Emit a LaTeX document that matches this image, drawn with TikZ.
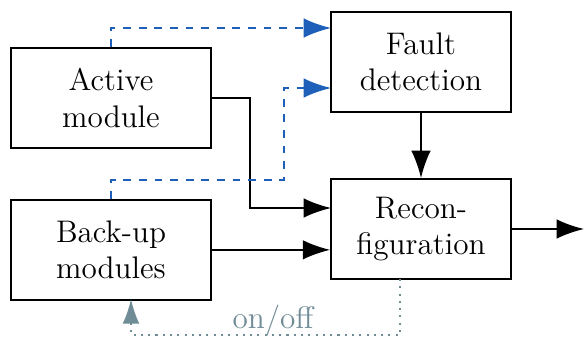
\documentclass[tikz,border=0pt]{standalone}
\usepackage{amsmath}
\usetikzlibrary{arrows.meta,positioning}
\definecolor{faultblue}{RGB}{30,95,185}
\definecolor{switchgrey}{RGB}{112,140,150}

\begin{document}
\begin{tikzpicture}[
    x=0.3846pt, y=-0.3846pt,
    modbox/.style={rectangle, draw=black, line width=0.7pt, align=center,
        minimum width=76.9pt, minimum height=38.5pt, inner sep=2pt, font=\large},
    ctrlbox/.style={modbox, minimum width=69.2pt},
    flow/.style={-{Latex[length=10.5pt,width=7.5pt]}, line width=0.7pt},
    monitor/.style={-{Latex[length=10.5pt,width=7.5pt]}, line width=0.7pt, dashed, faultblue},
    onoff/.style={-{Latex[length=9.5pt,width=6.5pt]}, line width=0.8pt, dotted, switchgrey}
]
\useasboundingbox (0,0) rectangle (584,338);
\node[modbox] (active) at (111,98) {Active\\module};
\node[modbox, below=19.2pt of active] (backup) {Back-up\\modules};
\node[ctrlbox] (fault) at (421,62) {Fault\\detection};
\node[ctrlbox] (reconf) at (421,229) {Recon-\\figuration};
\coordinate (out) at (584,229);
% main signal path
\draw[flow] (active.east) -- (250,98) |- (331,208);
\draw[flow] (backup.east) -- (backup.east -| reconf.west);
\draw[flow] (fault) -- (reconf);
\draw[flow] (reconf.east) -- (out);
% monitoring
\draw[monitor] (active.north) |- (331,28);
\draw[monitor] (backup.north) |- (284,180) |- (331,88);
% switching back-up modules
\draw[onoff] (400,279) |- (131,335) -- (131,299);
\node[text=switchgrey, font=\large] (lbl) at (273,321) {on/off};
\end{tikzpicture}
\end{document}
